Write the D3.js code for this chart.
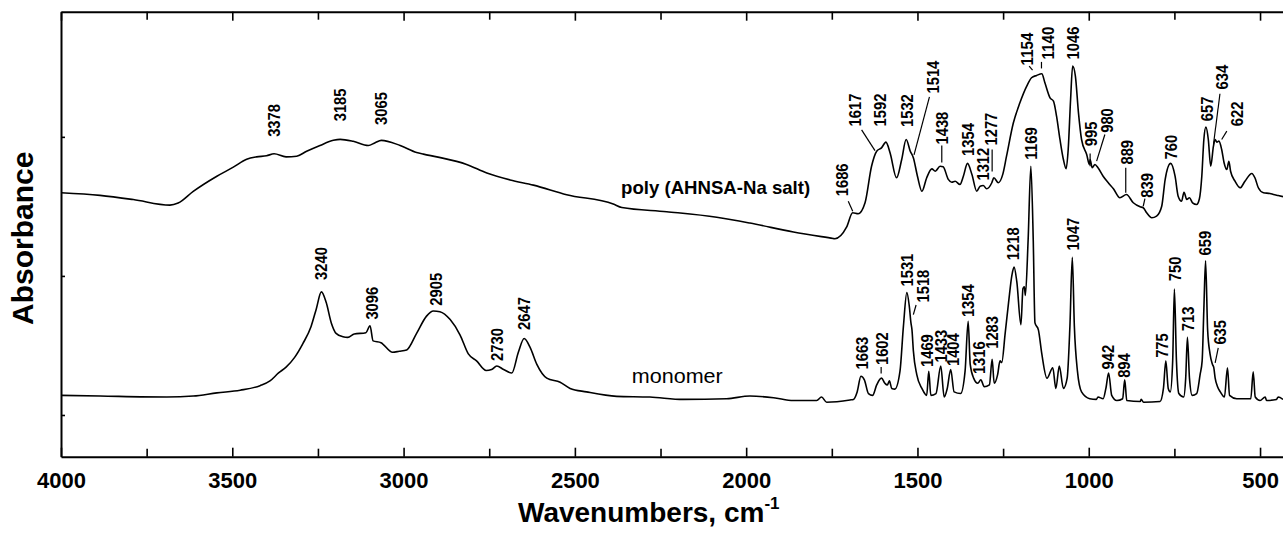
<!DOCTYPE html>
<html>
<head>
<meta charset="utf-8">
<script src="https://cdn.jsdelivr.net/npm/d3@7"></script>
<style>
  html, body { margin: 0; padding: 0; background: #fff; }
  svg { display: block; }
</style>
</head>
<body>
<svg id="chart" width="1283" height="540"></svg>
<script>
// FTIR spectra: [wavenumber (cm-1), absorbance (offset, arbitrary units)]
const polySpectrum = [
  [4000,1.598],[3886,1.579],[3789,1.549],[3682,1.509],[3658,1.524],[3614,1.608],
  [3545,1.717],[3497,1.782],[3458,1.839],[3429,1.856],[3400,1.864],[3378,1.878],
  [3343,1.856],[3312,1.861],[3283,1.896],[3244,1.938],[3205,1.975],[3185,1.982],
  [3147,1.968],[3103,1.938],[3083,1.958],[3065,1.975],[3010,1.938],[2962,1.888],
  [2942,1.876],[2903,1.856],[2816,1.802],[2757,1.740],[2689,1.690],[2621,1.653],
  [2524,1.584],[2388,1.517],[2363,1.492],[2232,1.462],[2086,1.422],[1989,1.380],
  [1862,1.316],[1746,1.269],[1741,1.267],[1707,1.350],[1689,1.454],[1673,1.447],
  [1653,1.526],[1634,1.789],[1619,1.897],[1605,1.921],[1592,1.962],[1580,1.886],
  [1561,1.706],[1546,1.837],[1533,1.981],[1521,1.897],[1512,1.850],[1500,1.717],
  [1487,1.609],[1473,1.706],[1458,1.770],[1448,1.753],[1434,1.789],[1425,1.785],
  [1410,1.694],[1400,1.674],[1390,1.681],[1376,1.658],[1366,1.717],[1354,1.809],
  [1341,1.729],[1327,1.609],[1317,1.645],[1308,1.650],[1298,1.627],[1283,1.670],
  [1277,1.706],[1264,1.670],[1251,1.730],[1240,1.861],[1220,2.101],[1201,2.245],
  [1181,2.365],[1167,2.425],[1152,2.442],[1137,2.454],[1128,2.389],[1113,2.281],
  [1103,2.257],[1094,2.149],[1084,1.981],[1074,1.837],[1066,1.771],[1060,1.909],
  [1053,2.269],[1047,2.509],[1039,2.437],[1030,2.173],[1021,1.981],[1006,1.873],
  [998,1.801],[996,1.837],[990,1.778],[982,1.801],[973,1.778],[958,1.717],
  [943,1.670],[928,1.627],[909,1.562],[890,1.585],[870,1.526],[850,1.497],
  [841,1.490],[831,1.454],[816,1.418],[802,1.430],[787,1.501],[777,1.693],
  [761,1.809],[748,1.717],[739,1.573],[729,1.537],[722,1.602],[714,1.550],
  [706,1.562],[697,1.526],[685,1.514],[677,1.555],[670,1.717],[664,1.981],
  [658,2.070],[651,1.981],[644,1.789],[636,1.933],[631,1.981],[626,1.962],
  [620,1.969],[612,1.909],[605,1.814],[597,1.765],[591,1.825],[586,1.753],
  [573,1.681],[558,1.634],[544,1.681],[524,1.737],[515,1.706],[505,1.634],
  [490,1.598],[471,1.593],[461,1.586],[447,1.578],[433,1.570]
];

const monomerSpectrum = [
  [4000,0.141],[3886,0.136],[3691,0.129],[3614,0.136],[3545,0.159],[3477,0.178],
  [3419,0.211],[3390,0.245],[3365,0.302],[3343,0.344],[3318,0.414],[3294,0.513],
  [3270,0.637],[3255,0.761],[3240,0.885],[3226,0.810],[3211,0.662],[3197,0.587],
  [3177,0.563],[3163,0.558],[3144,0.582],[3110,0.592],[3098,0.642],[3089,0.533],
  [3066,0.520],[3032,0.451],[3013,0.458],[2991,0.468],[2962,0.587],[2933,0.711],
  [2913,0.748],[2894,0.743],[2864,0.686],[2835,0.575],[2811,0.439],[2787,0.389],
  [2759,0.320],[2743,0.327],[2728,0.352],[2708,0.327],[2684,0.302],[2665,0.451],
  [2648,0.550],[2631,0.488],[2611,0.364],[2582,0.265],[2543,0.235],[2514,0.191],
  [2466,0.166],[2378,0.134],[2281,0.129],[2184,0.112],[2057,0.117],[1989,0.136],
  [1920,0.124],[1862,0.104],[1794,0.104],[1780,0.129],[1765,0.092],[1697,0.108],
  [1687,0.112],[1676,0.166],[1665,0.278],[1655,0.253],[1643,0.154],[1631,0.141],
  [1619,0.216],[1605,0.265],[1595,0.228],[1588,0.216],[1582,0.245],[1575,0.191],
  [1566,0.186],[1551,0.315],[1541,0.637],[1531,0.880],[1524,0.786],[1519,0.662],
  [1516,0.612],[1512,0.463],[1502,0.290],[1487,0.191],[1473,0.141],[1467,0.315],
  [1461,0.141],[1446,0.154],[1432,0.352],[1422,0.129],[1413,0.191],[1403,0.327],
  [1393,0.166],[1374,0.154],[1361,0.315],[1352,0.674],[1346,0.364],[1336,0.265],
  [1324,0.228],[1315,0.253],[1305,0.203],[1290,0.216],[1282,0.401],[1276,0.228],
  [1266,0.290],[1259,0.389],[1254,0.377],[1244,0.587],[1234,0.810],[1224,1.009],
  [1218,1.063],[1210,0.959],[1198,0.649],[1192,0.910],[1188,0.922],[1185,0.860],
  [1177,1.256],[1169,1.789],[1162,1.256],[1157,0.662],[1147,0.612],[1137,0.439],
  [1122,0.265],[1105,0.340],[1096,0.191],[1086,0.352],[1074,0.191],[1063,0.265],
  [1055,0.637],[1048,1.133],[1042,0.637],[1033,0.315],[1021,0.166],[997,0.117],
  [978,0.112],[973,0.129],[958,0.117],[950,0.191],[942,0.302],[933,0.141],
  [918,0.104],[901,0.117],[895,0.253],[889,0.104],[850,0.097],[847,0.112],
  [840,0.092],[792,0.097],[782,0.191],[775,0.389],[768,0.191],[762,0.166],
  [755,0.389],[750,0.905],[744,0.389],[737,0.154],[723,0.129],[717,0.265],
  [712,0.558],[706,0.265],[698,0.141],[685,0.154],[675,0.290],[669,0.389],
  [664,0.761],[659,1.108],[653,0.612],[646,0.439],[639,0.364],[635,0.340],
  [631,0.265],[624,0.203],[616,0.166],[604,0.129],[595,0.340],[589,0.141],
  [568,0.117],[527,0.117],[520,0.310],[514,0.129],[500,0.104],[485,0.129],
  [481,0.104],[452,0.112],[447,0.129],[433,0.112]
];

// Peak annotations: text, wavenumber of the label centre, absorbance at the
// foot of the label, optional leader line [wn1, a1, wn2, a2]
const polyPeaks = [
  {text:"3378", wn:3378, a:2.000},
  {text:"3185", wn:3185, a:2.112},
  {text:"3065", wn:3065, a:2.086},
  {text:"1686", wn:1719, a:1.573, lead:[1702,1.537,1689,1.465]},
  {text:"1617", wn:1682, a:2.075, lead:[1663,2.050,1624,1.901]},
  {text:"1592", wn:1609, a:2.075},
  {text:"1532", wn:1530, a:2.071},
  {text:"1514", wn:1455, a:2.312, lead:[1465,2.287,1510,1.870]},
  {text:"1438", wn:1428, a:1.945, lead:[1429,1.938,1429,1.816]},
  {text:"1354", wn:1352, a:1.863},
  {text:"1312", wn:1310, a:1.686},
  {text:"1277", wn:1284, a:1.938, lead:[1282,1.909,1282,1.751]},
  {text:"1154", wn:1181, a:2.514, lead:[1174,2.509,1164,2.480]},
  {text:"1140", wn:1119, a:2.557, lead:[1138,2.539,1138,2.492]},
  {text:"1046", wn:1045, a:2.557},
  {text:"995",  wn:994,  a:1.933, lead:[996,1.881,996,1.789]},
  {text:"980",  wn:948,  a:2.029, lead:[953,2.017,977,1.825]},
  {text:"889",  wn:887,  a:1.801, lead:[892,1.778,892,1.598]},
  {text:"839",  wn:831,  a:1.562, lead:[836,1.555,841,1.501]},
  {text:"760",  wn:761,  a:1.837},
  {text:"657",  wn:656,  a:2.113},
  {text:"634",  wn:610,  a:2.341, lead:[617,2.310,636,1.945]},
  {text:"622",  wn:568,  a:2.077, lead:[597,2.041,612,1.981]}
];

const monomerPeaks = [
  {text:"3240", wn:3240, a:0.971},
  {text:"3096", wn:3093, a:0.686},
  {text:"2905", wn:2905, a:0.786},
  {text:"2730", wn:2726, a:0.389},
  {text:"2647", wn:2647, a:0.612},
  {text:"1663", wn:1663, a:0.327},
  {text:"1602", wn:1603, a:0.359, lead:[1606,0.345,1606,0.298]},
  {text:"1531", wn:1529, a:0.924},
  {text:"1518", wn:1485, a:0.809, lead:[1504,0.791,1512,0.722]},
  {text:"1469", wn:1471, a:0.345},
  {text:"1433", wn:1431, a:0.377},
  {text:"1404", wn:1397, a:0.352},
  {text:"1354", wn:1351, a:0.704},
  {text:"1316", wn:1319, a:0.294},
  {text:"1283", wn:1282, a:0.476},
  {text:"1218", wn:1220, a:1.113},
  {text:"1169", wn:1169, a:1.835},
  {text:"1047", wn:1045, a:1.183},
  {text:"942",  wn:944,  a:0.327},
  {text:"894",  wn:897,  a:0.267},
  {text:"775",  wn:787,  a:0.411},
  {text:"750",  wn:748,  a:0.962},
  {text:"713",  wn:709,  a:0.602},
  {text:"659",  wn:661,  a:1.147},
  {text:"635",  wn:617,  a:0.506, lead:[622,0.483,631,0.375]}
];

// Series captions: text, wavenumber where it starts, absorbance of its baseline
const seriesCaptions = [
  {text:"poly (AHNSA-Na salt)", wn:2365, a:1.589, bold:true},
  {text:"monomer", wn:2334, a:0.231, bold:false}
];

const majorTicks = [4000, 3500, 3000, 2500, 2000, 1500, 1000, 500];
const minorTicks = [3750, 3250, 2750, 2250, 1750, 1250, 750];
const yTicks = [0, 1, 2];

const FONT = "'Liberation Sans', Arial, Helvetica, sans-serif";
const svg = d3.select("#chart");

const x = d3.scaleLinear().domain([4000, 400]).range([61, 1294.3]);
const y = d3.scaleLinear().domain([-0.3, 2.9]).range([456.7, 11.7]);

svg.append("defs").append("clipPath").attr("id", "plotClip")
  .append("rect")
  .attr("x", x(4000)).attr("y", y(2.9))
  .attr("width", x(400) - x(4000)).attr("height", y(-0.3) - y(2.9));

const plot = svg.append("g").attr("clip-path", "url(#plotClip)");

const line = d3.line()
  .x(d => x(d[0]))
  .y(d => y(d[1]))
  .curve(d3.curveMonotoneX);

[polySpectrum, monomerSpectrum].forEach(series => {
  plot.append("path")
    .datum(series)
    .attr("d", line)
    .attr("fill", "none")
    .attr("stroke", "#000")
    .attr("stroke-width", 1.6)
    .attr("stroke-linejoin", "round");
});

// Peak labels (rotated, bold, narrow digits) with leader lines
const annot = svg.append("g");
[...polyPeaks, ...monomerPeaks].forEach(p => {
  annot.append("text")
    .attr("transform", `translate(${x(p.wn)},${y(p.a)}) rotate(-90)`)
    .attr("dy", "0.36em")
    .attr("font-family", FONT)
    .attr("font-weight", "bold")
    .attr("font-size", 16.5)
    .attr("textLength", p.text.length * 8.2)
    .attr("lengthAdjust", "spacingAndGlyphs")
    .attr("fill", "#000")
    .text(p.text);
  if (p.lead) {
    annot.append("line")
      .attr("x1", x(p.lead[0])).attr("y1", y(p.lead[1]))
      .attr("x2", x(p.lead[2])).attr("y2", y(p.lead[3]))
      .attr("stroke", "#000").attr("stroke-width", 1.2);
  }
});

seriesCaptions.forEach(c => {
  annot.append("text")
    .attr("x", x(c.wn)).attr("y", y(c.a))
    .attr("font-family", FONT)
    .attr("font-weight", c.bold ? "bold" : "normal")
    .attr("font-size", c.bold ? 18.5 : 21)
    .attr("textLength", c.bold ? 189 : 91)
    .attr("lengthAdjust", "spacingAndGlyphs")
    .attr("fill", "#000")
    .text(c.text);
});

// Axes: frame with inward ticks
const styleAxis = g => {
  g.select(".domain").attr("stroke", "#000").attr("stroke-width", 2);
  g.selectAll(".tick line").attr("stroke", "#000").attr("stroke-width", 1.6);
};

const bottom = svg.append("g")
  .attr("transform", `translate(0,${y(-0.3)})`)
  .call(d3.axisBottom(x).tickValues(majorTicks).tickSize(-9).tickSizeOuter(0)
    .tickFormat(d3.format("d")))
  .call(styleAxis);
bottom.selectAll(".tick text")
  .attr("y", 31).attr("dy", 0)
  .attr("font-family", FONT).attr("font-weight", "bold")
  .attr("font-size", 22).attr("fill", "#000");

svg.append("g")
  .attr("transform", `translate(0,${y(-0.3)})`)
  .call(d3.axisBottom(x).tickValues(minorTicks).tickSize(-8).tickFormat(""))
  .call(g => g.select(".domain").remove())
  .call(styleAxis);

svg.append("g")
  .attr("transform", `translate(0,${y(2.9)})`)
  .call(d3.axisTop(x).tickValues(majorTicks).tickSize(-9).tickSizeOuter(0).tickFormat(""))
  .call(styleAxis);

svg.append("g")
  .attr("transform", `translate(0,${y(2.9)})`)
  .call(d3.axisTop(x).tickValues(minorTicks).tickSize(-8).tickFormat(""))
  .call(g => g.select(".domain").remove())
  .call(styleAxis);

svg.append("g")
  .attr("transform", `translate(${x(4000)},0)`)
  .call(d3.axisLeft(y).tickValues(yTicks).tickSize(-4).tickSizeOuter(0).tickFormat(""))
  .call(styleAxis);

// Axis titles
const xTitle = svg.append("text")
  .attr("x", 518).attr("y", 522)
  .attr("font-family", FONT).attr("font-weight", "bold")
  .attr("font-size", 28).attr("fill", "#000");
xTitle.append("tspan").text("Wavenumbers, cm");
xTitle.append("tspan").attr("dy", -13).attr("font-size", 17).text("-1");

svg.append("text")
  .attr("transform", `translate(33,${(y(-0.3) + y(2.9)) / 2 + 4}) rotate(-90)`)
  .attr("text-anchor", "middle")
  .attr("font-family", FONT).attr("font-weight", "bold")
  .attr("font-size", 30).attr("fill", "#000")
  .text("Absorbance");
</script>
</body>
</html>
